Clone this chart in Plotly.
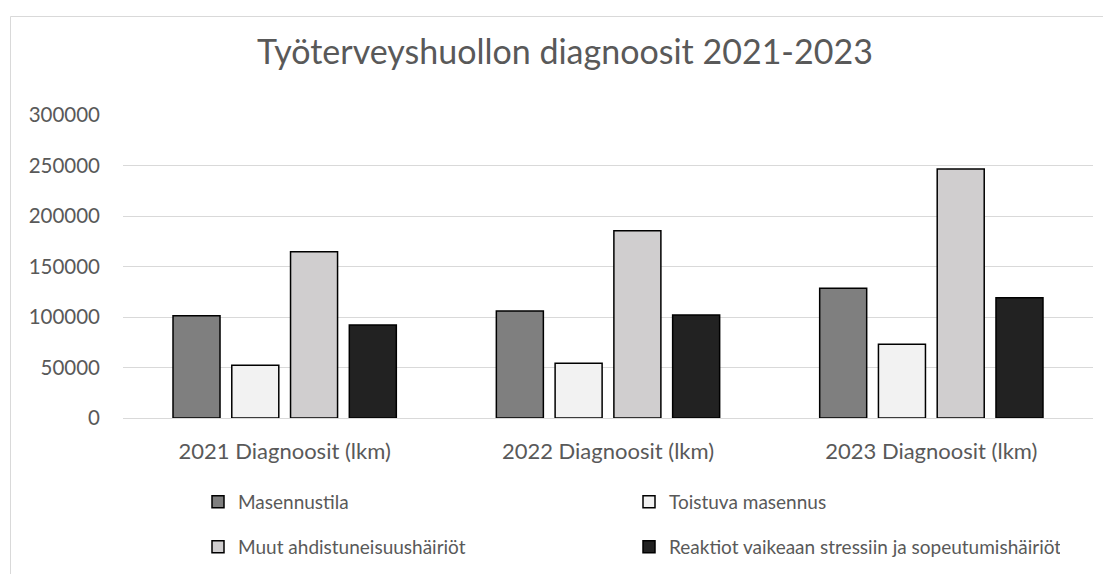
import plotly.graph_objects as go

categories = ["2021 Diagnoosit (lkm)", "2022 Diagnoosit (lkm)", "2023 Diagnoosit (lkm)"]
series_names = ["Masennustila", "Toistuva masennus", "Muut ahdistuneisuushäiriöt",
                "Reaktiot vaikeaan stressiin ja sopeutumishäiriöt"]
masennustila = [101300, 105900, 128400]
toistuva = [52200, 54100, 73000]
muut = [164600, 185400, 246500]
reaktiot = [92000, 102000, 119100]
y_ticks = [0, 50000, 100000, 150000, 200000, 250000, 300000]

values = [masennustila, toistuva, muut, reaktiot]
colors = ["#7f7f7f", "#f2f2f2", "#d0cecf", "#222222"]
legends = ["legend", "legend", "legend2", "legend2"]

FONT = "Lato"
GREY = "#595959"

fig = go.Figure()
for name, vals, col, lg in zip(series_names, values, colors, legends):
    fig.add_trace(go.Bar(
        x=categories, y=vals, name=name,
        marker=dict(color=col, line=dict(color="#000000", width=1.5)),
        legend=lg,
    ))

# page body has an 8px margin; figure coordinates are screen coordinates minus 8
OFF = 8
W, H = 1111 - OFF, 574 - OFF
L, R, T, B = 123 - OFF, W - (1093 - OFF), 115 - OFF, H - (418 - OFF)
pw = W - L - R
ph = H - T - B

def px_x(x):
    return (x - OFF - L) / pw

def px_y(y):
    return (H - B - (y - OFF)) / ph

leg_common = dict(orientation="h", xanchor="left", yanchor="middle",
                  entrywidth=386, entrywidthmode="pixels", itemwidth=30,
                  font=dict(size=19, color=GREY), bgcolor="rgba(0,0,0,0)")

fig.update_layout(
    width=W, height=H,
    margin=dict(l=L, r=R, t=T, b=B, autoexpand=False),
    paper_bgcolor="white", plot_bgcolor="white",
    barmode="group", bargap=0.273, bargroupgap=0.2,
    font=dict(family=FONT, color=GREY, size=19),
    title=dict(text="Työterveyshuollon diagnoosit 2021-2023",
               x=(565 - OFF) / W, xanchor="center", y=1 - (52 - OFF) / H, yanchor="middle",
               font=dict(family=FONT, size=34, color=GREY)),
    xaxis=dict(showgrid=False, showline=False, ticks="", ticklabelstandoff=18,
               tickfont=dict(size=22, color=GREY)),
    yaxis=dict(range=[0, 300000], tickvals=y_ticks, ticktext=[str(v) for v in y_ticks],
               showgrid=True, gridcolor="#d9d9d9", gridwidth=1.2,
               zeroline=True, zerolinecolor="#d9d9d9", zerolinewidth=1.2,
               showline=False, ticks="", ticklabelstandoff=22,
               tickfont=dict(size=20.5, color=GREY)),
    legend=dict(x=px_x(198), y=px_y(502), **leg_common),
    legend2=dict(x=px_x(198), y=px_y(547), **leg_common),
    showlegend=True,
)

fig.add_shape(type="rect", xref="paper", yref="paper",
              x0=px_x(10.5), x1=px_x(1130), y0=px_y(16.5), y1=px_y(600),
              line=dict(color="#d9d9d9", width=1), fillcolor="rgba(0,0,0,0)", layer="below")

fig.write_html("out.html")
